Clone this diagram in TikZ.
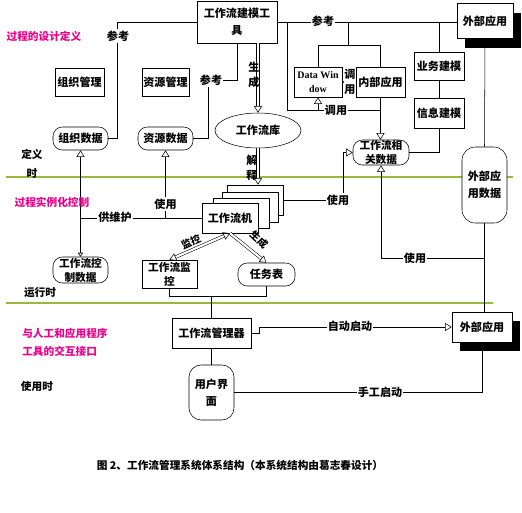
\documentclass[tikz,border=0pt]{standalone}
\usepackage{fontspec}
\setmainfont{Noto Sans CJK SC}
\newfontfamily\latinfont{Liberation Serif}
\usepackage{xcolor}
\usetikzlibrary{arrows.meta, shapes.geometric, shadows}
\definecolor{rulegreen}{RGB}{154,184,58}

\begin{document}
\begin{tikzpicture}[x=0.75pt, y=-0.75pt,
  every node/.style={font=\bfseries\fontsize{8.3}{12.5}\selectfont},
  box/.style={draw, fill=white, align=center, inner sep=1pt},
  rbox/.style={box, rounded corners=7pt},
  extbox/.style={box, drop shadow={shadow xshift=6pt, shadow yshift=-7pt, fill=black, opacity=1}},
  lbl/.style={fill=white, inner sep=1pt, align=center},
  note/.style={inner sep=0pt, align=left, font=\bfseries\fontsize{8}{14}\selectfont},
  hollow/.style={-{Triangle[open, length=5pt, width=6pt]}},
  dbl/.style={double, double distance=1.6pt}]
      \useasboundingbox (0,0) rectangle (522,512);
      % phase rules
      \draw[rulegreen, thick] (6,177) -- (513,177);
      \draw[rulegreen, thick] (6,303) -- (493,303);
      % nodes
      \node[box, minimum width=60pt, minimum height=31.5pt] (mt) at (237,22) {工作流建模工\\具};
      \node[extbox, minimum width=42pt, minimum height=26pt] (ext1) at (485,21) {外部应用};
      \node[box, minimum width=36.75pt, minimum height=21pt] (org) at (79.5,82) {组织管理};
      \node[rbox, minimum width=41.25pt, minimum height=17.25pt] (orgd) at (80.5,138.5) {组织数据};
      \node[box, minimum width=35.25pt, minimum height=21pt] (res) at (165.5,82) {资源管理};
      \node[rbox, minimum width=41.25pt, minimum height=17.25pt] (resd) at (165.5,138.5) {资源数据};
      \node[ellipse, draw, fill=white, minimum width=64.5pt, minimum height=26.25pt, inner sep=0pt] (lib) at (258,130.5) {工作流库};
      \node[box, minimum width=36pt, minimum height=22.5pt, font=\latinfont\bfseries\fontsize{7.5}{10.5}\selectfont] (dw) at (318,82) {Data Win\\dow};
      \node[box, minimum width=36.75pt, minimum height=22.5pt] (inner) at (380.5,82) {内部应用};
      \node[box, minimum width=37.5pt, minimum height=21pt] (biz) at (439,66) {业务建模};
      \node[box, minimum width=37.5pt, minimum height=22.5pt] (info) at (439,113) {信息建模};
      \node[rbox, minimum width=42pt, minimum height=18.75pt, inner sep=0pt, font=\bfseries\fontsize{8}{10.5}\selectfont] (rel) at (381,152.5) {工作流相\\关数据};
      \node[box, rounded corners=10pt, minimum width=33.75pt, minimum height=57pt] (extd) at (484.5,185) {外部应\\用数据};
      \node[box, minimum width=42pt, minimum height=22.5pt] (eng1) at (255,200) {};
      \node[box, minimum width=42pt, minimum height=22.5pt] (eng2) at (250,207) {};
      \node[box, minimum width=42pt, minimum height=22.5pt] (eng3) at (241,213) {};
      \node[box, minimum width=42pt, minimum height=22.5pt] (eng) at (230,218) {工作流机};
      \node[rbox, minimum width=41.25pt, minimum height=19.5pt, inner sep=0pt, font=\bfseries\fontsize{8}{10.5}\selectfont] (ctl) at (80.5,270) {工作流控\\制数据};
      \node[box, minimum width=41.25pt, minimum height=21pt, inner sep=0pt, font=\bfseries\fontsize{8}{10.5}\selectfont] (mon) at (169.5,274) {工作流监\\控};
      \node[rbox, minimum width=42.75pt, minimum height=17.25pt] (task) at (266.5,274.5) {任务表};
      \node[box, minimum width=59.25pt, minimum height=22.5pt] (mgr) at (211.5,333) {工作流管理器};
      \node[box, rounded corners=9pt, minimum width=33.75pt, minimum height=41.25pt] (ui) at (211.5,392.5) {用户界\\面};
      \node[extbox, minimum width=45pt, minimum height=22.5pt] (ext2) at (482,327) {外部应用};
      % connectors
      \coordinate (tapA) at (287,22);
      \coordinate (tapB) at (348,22);
      \coordinate (tapC) at (439,22);
      \coordinate (jOrg) at (80.5,218);
      \coordinate (jRes) at (165.5,218);
      \draw (mt.west) -- (117,22) |- (orgd.east);
      \draw (mt.east) -- (mt.east -| ext1.west);
      \draw (mt.south) -- (237,80) -- (208,80) |- (resd.east);
      \draw[dbl, hollow] (lib.north |- mt.south) -- (lib.north);
      \draw (tapA) |- (380.5,110);
      \draw[hollow] (318,110) -- (dw.south);
      \draw (tapB) -- (348,45);
      \draw (dw.north) -- (318,45) -| (inner.north);
      \draw[hollow] (inner.west) -- (dw.east);
      \draw[hollow] (inner.south) -- (inner.south |- rel.north);
      \draw (tapC) -- (biz.north);
      \draw (biz.south) -- (info.north);
      \draw (info.south) |- (rel.east);
      \draw (ext1.south) -- (extd.north);
      \draw (extd.south) -- (extd.south |- ext2.north);
      \draw[dbl, hollow] (lib.south) -- (lib.south |- eng1.north);
      \draw (eng.west) -- (jOrg);
      \draw[hollow] (jOrg) -- (orgd.south);
      \draw[hollow] (jRes) -- (resd.south);
      \draw[-{Triangle[open, length=3pt, width=4pt]}] (jOrg) -- (ctl.north);
      \draw[hollow] (eng1.east) -| (343,152.5) -- (rel.west);
      \draw[hollow] (484.5,258) -| (rel.south);
      \draw[dbl, {Triangle[open, length=5pt, width=6pt]}-{Triangle[open, length=5pt, width=6pt]}] (eng.south) -- (mon.north);
      \draw[dbl, hollow] (eng.south) -- (task.north);
      \draw (mon.south) -- (169.5,296) -| (task.south);
      \draw (211.5,296) -- (mgr.north);
      \draw[hollow] (mgr.east) -- (259,333) |- (ext2.west);
      \draw (mgr.south) -- (ui.north);
      \draw[hollow] (ui.east) -| (ext2.south);
      % connector labels
      \node[lbl] (lblRefOrg) at (118,36) {参考};
      \node[lbl] (lblRefExt) at (323,21) {参考};
      \node[lbl] (lblRefRes) at (211,80) {参考};
      \node[align=center, inner sep=0pt, font=\bfseries\fontsize{8.3}{11}\selectfont] (lblGen) at (254,75) {生\\成};
      \node[align=center, inner sep=0pt, font=\bfseries\fontsize{8.3}{11}\selectfont] (lblExp) at (252,168) {解\\释};
      \node[lbl, inner sep=0pt, font=\bfseries\fontsize{8.3}{11}\selectfont] (lblCallA) at (350,82) {调\\用};
      \node[lbl] (lblCallB) at (336,110) {调用};
      \node[lbl] (lblUseRes) at (165.5,204) {使用};
      \node[lbl] (lblMaint) at (115,217) {供维护};
      \node[lbl] (lblUseEng) at (338,200) {使用};
      \node[lbl] (lblUseExt) at (415,258) {使用};
      \node[rotate=24, inner sep=0pt, font=\bfseries\fontsize{7.5}{9}\selectfont] (lblMon) at (191,242) {监控};
      \node[rotate=-43, inner sep=0pt, font=\bfseries\fontsize{7.5}{9}\selectfont] (lblGenTask) at (259,240) {生成};
      \node[lbl] (lblAuto) at (350,326) {自动启动};
      \node[lbl] (lblHand) at (380,392) {手工启动};
      % phase notes
      \node[note, magenta] (nDesign) at (44,36) {过程的设计定义};
      \node[note, align=center] (nDefine) at (32,164) {定义\\时};
      \node[note, magenta] (nInst) at (52,202) {过程实例化控制};
      \node[note] (nRun) at (40,293) {运行时};
      \node[note, magenta, anchor=west] (nIface) at (22,342.5) {与人工和应用程序\\工具的交互接口};
      \node[note] (nUse) at (37,386) {使用时};
      \node[font=\bfseries\fontsize{8}{10}\selectfont] (caption) at (240,465) {图 2、工作流管理系统体系结构（本系统结构由葛志春设计）};
\end{tikzpicture}
\end{document}
